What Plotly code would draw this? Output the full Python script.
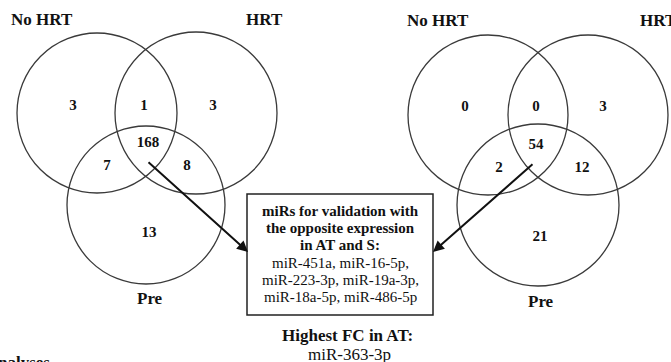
import plotly.graph_objects as go

# ---- data ----
set_labels = ["No HRT", "HRT", "Pre"]
region_names = ["NoHRT only", "NoHRT&HRT", "HRT only", "all", "NoHRT&Pre", "HRT&Pre", "Pre only"]
left_counts = [3, 1, 3, 168, 7, 8, 13]
right_counts = [0, 0, 3, 54, 2, 12, 21]
box_lines = ["miRs for validation with", "the opposite expression", "in AT and S:",
             "miR-451a, miR-16-5p,", "miR-223-3p, miR-19a-3p,", "miR-18a-5p, miR-486-5p"]
box_bold = [True, True, True, False, False, False]
highest_title = "Highest FC in AT:"
highest_mir = "miR-363-3p"
cut_text = "nalyses"

# ---- layout geometry (pixels) ----
W, H = 671, 362
FONT = "Liberation Serif, Times New Roman, serif"

diagrams = [
    dict(counts=left_counts,
         circles=[(97, 113, 80), (196, 113, 81), (146, 205, 79)],
         label_pos=[(42, 19), (264, 19), (150, 298)],
         num_pos=[(73, 106), (144, 106), (213, 106), (148, 143), (107, 166), (187, 166), (149, 233)],
         arrow_from=(147, 161)),
    dict(counts=right_counts,
         circles=[(488, 115, 80), (588, 115, 80), (538, 205, 81)],
         label_pos=[(438, 20), (658, 20), (541, 301)],
         num_pos=[(465, 107), (536, 107), (603, 107), (536, 145), (499, 168), (582, 168), (540, 237)],
         arrow_from=(534, 163)),
]
box = (247, 194, 433, 315)
arrow_to = [(248, 252), (433, 252)]

fig = go.Figure()
shapes = []
annotations = []

for d in diagrams:
    for (cx, cy, r) in d["circles"]:
        shapes.append(dict(type="circle", xref="x", yref="y",
                           x0=cx - r, x1=cx + r, y0=cy - r, y1=cy + r,
                           line=dict(color="#3a3a3a", width=1.3)))
    fig.add_trace(go.Scatter(
        x=[p[0] for p in d["num_pos"]], y=[p[1] for p in d["num_pos"]],
        mode="text", text=[f"<b>{c}</b>" for c in d["counts"]],
        textfont=dict(family=FONT, size=15, color="#111"),
        hovertext=region_names, hoverinfo="text", showlegend=False))
    for lab, (lx, ly) in zip(set_labels, d["label_pos"]):
        annotations.append(dict(x=lx, y=ly, xref="x", yref="y", text=f"<b>{lab}</b>",
                                showarrow=False, font=dict(family=FONT, size=17, color="#111")))

# box
shapes.append(dict(type="rect", xref="x", yref="y", x0=box[0], x1=box[2], y0=box[1], y1=box[3],
                   line=dict(color="#222", width=1.5), fillcolor="white"))
y0 = 211
for i, (t, b) in enumerate(zip(box_lines, box_bold)):
    annotations.append(dict(x=(box[0] + box[2]) / 2, y=y0 + i * 17.2, xref="x", yref="y",
                            text=f"<b>{t}</b>" if b else t, showarrow=False,
                            font=dict(family=FONT, size=15, color="#111")))

# arrows
for d, (tx, ty) in zip(diagrams, arrow_to):
    fx, fy = d["arrow_from"]
    annotations.append(dict(x=tx, y=ty, ax=fx, ay=fy, xref="x", yref="y", axref="x", ayref="y",
                            text="", showarrow=True, arrowhead=2, arrowsize=1.1,
                            arrowwidth=2, arrowcolor="#111"))

annotations.append(dict(x=347, y=335, xref="x", yref="y", text=f"<b>{highest_title}</b>",
                        showarrow=False, font=dict(family=FONT, size=17, color="#111")))
annotations.append(dict(x=349, y=354, xref="x", yref="y", text=highest_mir,
                        showarrow=False, font=dict(family=FONT, size=17, color="#111")))
annotations.append(dict(x=0, y=362, xref="x", yref="y", text=f"<b>{cut_text}</b>",
                        xanchor="left", yanchor="middle", xshift=-4,
                        showarrow=False, font=dict(family=FONT, size=17, color="#111")))

fig.update_layout(
    width=W, height=H, margin=dict(l=0, r=0, t=0, b=0),
    paper_bgcolor="white", plot_bgcolor="white",
    xaxis=dict(range=[0, W], visible=False, fixedrange=True),
    yaxis=dict(range=[H, 0], visible=False, fixedrange=True),
    shapes=shapes, annotations=annotations, showlegend=False,
)
fig.write_html("out.html")
